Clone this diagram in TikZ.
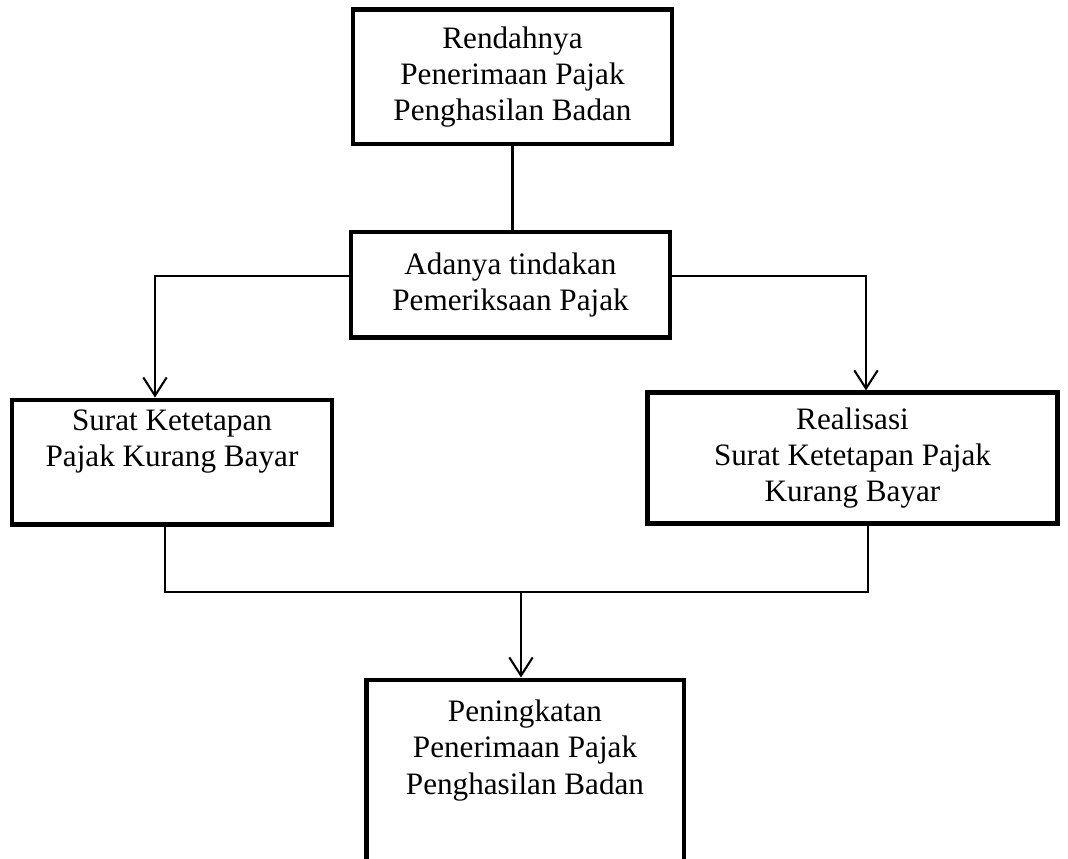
\documentclass[tikz,border=0pt]{standalone}
\usepackage{fontspec}
\setmainfont{Liberation Serif}
\usetikzlibrary{arrows.meta, positioning, calc}

\begin{document}
\begin{tikzpicture}[
	x=0.385pt, y=0.385pt,
	>={Straight Barb[length=7pt, width=9pt]},
	font=\fontsize{12}{14}\selectfont,
	box/.style={draw, rectangle, line width=1.9pt, align=center, inner sep=0pt},
	boxtext/.style={anchor=north, align=center, inner sep=0pt},
	conn/.style={line width=0.8pt}
	]
	\useasboundingbox (0,0) rectangle (1068,859);
	% --- Definisi node (kotak bagan) ---
	\node[box, minimum width=122.8pt, minimum height=51.6pt] (rendah) at (512.5,782) {Rendahnya\\Penerimaan Pajak\\Penghasilan Badan}; % Kotak atas
	\node[box, minimum width=122.8pt, minimum height=40.8pt] (periksa) at (510.5,574) {Adanya tindakan\\Pemeriksaan Pajak}; % Pemeriksaan
	\node[box, minimum width=123.2pt, minimum height=48.1pt,
		label={[boxtext, yshift=-4.5pt]north:Surat Ketetapan\\Pajak Kurang Bayar}] (skpkb) at (172,396.5) {}; % Kiri
	\node[box, minimum width=158.2pt, minimum height=50.1pt] (realisasi) at (852.5,401) {Realisasi\\Surat Ketetapan Pajak\\Kurang Bayar}; % Kanan
	\node[box, minimum width=122.4pt, minimum height=77pt,
		label={[boxtext, yshift=-8.4pt]north:Peningkatan\\Penerimaan Pajak\\Penghasilan Badan}] (naik) at (525,79) {}; % Kotak bawah
	
	% --- Garis penghubung ---
	\draw[conn] (rendah.south) -- (rendah.south |- periksa.north);
	\draw[conn, ->] ($(periksa.west)+(0,9)$) -| ($(skpkb.north)+(-17,0)$);
	\draw[conn, ->] ($(periksa.east)+(0,9)$) -| ($(realisasi.north)+(13.5,0)$);
	
	% --- Penggabungan ke kotak bawah ---
	\coordinate (gabung) at (521,267); % Titik cabang
	\draw[conn] ($(skpkb.south)+(-7,0)$) |- (gabung) -| ($(realisasi.south)+(15.5,0)$);
	\draw[conn, ->] (gabung) -- (gabung |- naik.north);
\end{tikzpicture}
\end{document}
